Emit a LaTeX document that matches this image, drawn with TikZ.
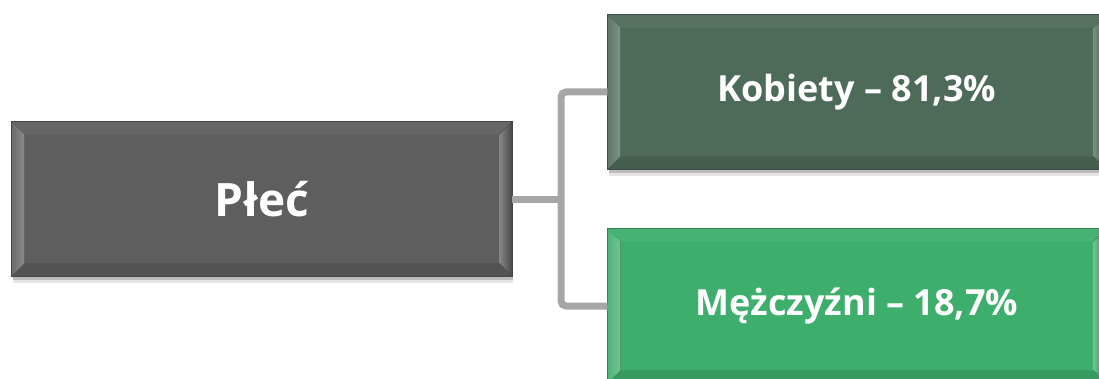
\documentclass[tikz,border=0pt]{standalone}
\usepackage{fontspec}
\setmainfont{Open Sans}
\usetikzlibrary{calc,shadows}
\definecolor{plecgray}{HTML}{5E5E5E}
\definecolor{kobgreen}{HTML}{4E6B5A}
\definecolor{mezgreen}{HTML}{3DAE6B}
\definecolor{conngray}{HTML}{A6A6A6}
\tikzset{
  catbox/.style={minimum width=498pt, minimum height=154pt, inner sep=0pt,
    draw=#1!80!black, line width=0.8pt, fill=#1, text=white,
    drop shadow={shadow xshift=1pt, shadow yshift=-7pt, opacity=0.10, fill=black},
    drop shadow={shadow xshift=1pt, shadow yshift=-4pt, opacity=0.18, fill=black}},
  conn/.style={line width=7pt, draw=conngray, rounded corners=5pt}
}
\def\bevel(#1)[#2]{%
  \fill[left color=#2!92!white, right color=#2!72!white]
    (#1.north west) -- ($(#1.north west)+(13,-13)$) -- ($(#1.south west)+(13,13)$) -- (#1.south west) -- cycle;
  \fill[#2!95!white]
    (#1.north west) -- (#1.north east) -- ($(#1.north east)+(-13,-13)$) -- ($(#1.north west)+(13,-13)$) -- cycle;
  \fill[left color=#2!75!white, right color=#2!75!black]
    (#1.north east) -- ($(#1.north east)+(-13,-13)$) -- ($(#1.south east)+(-13,13)$) -- (#1.south east) -- cycle;
  \fill[#2!88!black]
    (#1.south west) -- (#1.south east) -- ($(#1.south east)+(-13,13)$) -- ($(#1.south west)+(13,13)$) -- cycle;
  \draw[#2!75!black, line width=0.8pt] (#1.north west) rectangle (#1.south east);
}

\begin{document}
\begin{tikzpicture}[x=1pt, y=1pt]
  %%%%% START %%%%%
  \useasboundingbox (0,0) rectangle (1099,378);
  \begin{scope}
  \clip (0,0) rectangle (1099,378);

  \coordinate (trunk) at (561, 179);

  \node[catbox=plecgray, minimum width=500pt] (plec) at (262, 179) {};
  \node[catbox=kobgreen] (kob) at (857, 286) {};
  \node[catbox=mezgreen] (mez) at (857, 72) {};

  \bevel(plec)[plecgray]
  \bevel(kob)[kobgreen]
  \bevel(mez)[mezgreen]

  \node[text=white, font=\fontsize{46}{50}\selectfont\bfseries] at (plec) {Płeć};
  \node[text=white, font=\fontsize{36}{40}\selectfont\bfseries] at (kob) {Kobiety – 81,3\%};
  \node[text=white, font=\fontsize{36}{40}\selectfont\bfseries] at (mez) {Mężczyźni – 18,7\%};

  \draw[conn] (kob.west) -| (trunk) |- (mez.west);
  \draw[conn] (plec.east) -- (trunk);
  \end{scope}
  %%%%% END %%%%%
\end{tikzpicture}
\end{document}
